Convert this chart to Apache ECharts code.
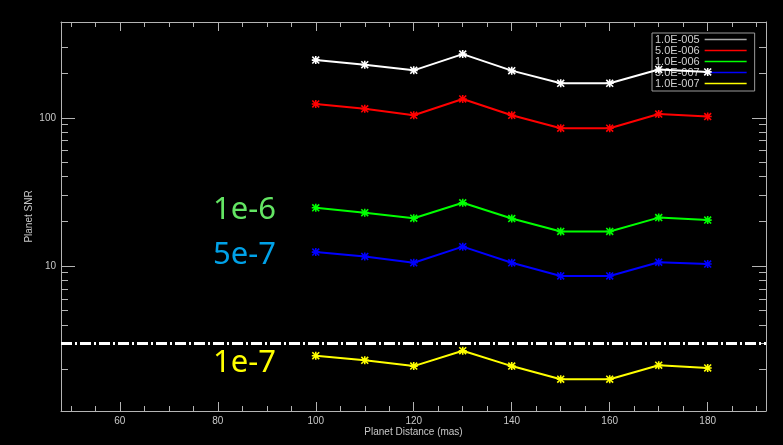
<!DOCTYPE html>
<html>
<head>
<meta charset="utf-8">
<script src="https://cdn.jsdelivr.net/npm/echarts@6/dist/echarts.min.js"></script>
<style>
html,body{margin:0;padding:0;background:#000;}
#chart{width:783px;height:445px;}
</style>
</head>
<body>
<div id="chart"></div>
<script>
// ---- data ----
var distances = [100, 110, 120, 130, 140, 150, 160, 170, 180];
var seriesNames = ['1.0E-005', '5.0E-006', '1.0E-006', '5.0E-007', '1.0E-007'];
var snr1e5 = [245, 228, 209, 269, 208, 171, 171, 212, 204];
var snr5e6 = [124, 115, 104, 134, 104, 85, 85, 106, 102];
var snr1e6 = [24.7, 22.9, 21.0, 26.7, 20.9, 17.1, 17.1, 21.2, 20.4];
var snr5e7 = [12.4, 11.6, 10.5, 13.5, 10.5, 8.56, 8.56, 10.6, 10.3];
var snr1e7 = [2.48, 2.31, 2.11, 2.68, 2.11, 1.72, 1.72, 2.14, 2.05];
var snrThreshold = [3];
var xMajorTicks = [60, 80, 100, 120, 140, 160, 180];
var xMinorTicks = [50, 55, 65, 70, 75, 85, 90, 95, 105, 110, 115, 125, 130, 135, 145, 150, 155, 165, 170, 175, 185, 190];
var yMajorTicks = [10, 100];
var yMinorTicks = [2, 3, 4, 5, 6, 7, 8, 9, 20, 30, 40, 50, 60, 70, 80, 90, 200, 300];
var annotations = ['1e-6', '5e-7', '1e-7'];

// ---- styles ----
var colors = ['#ffffff', '#ff0000', '#00ff00', '#0000ff', '#ffff00'];
var axisGray = '#b4b4b4';
var labelFont = 'Liberation Sans';
var starPath = 'path://M0 4H10V6H0Z M4 0H6V10H4Z M0 1.4L1.4 0L10 8.6L8.6 10Z M8.6 0L10 1.4L1.4 10L0 8.6Z';

function pairs(ys) { return distances.map(function (x, i) { return [x, ys[i]]; }); }

var xMin = 48, xMax = 191.9, yMin = 1.05, yMax = 443;

function xAx(pos, ticks, len, showLine, showLabel, extra) {
  var a = {
    type: 'value', position: pos, min: xMin, max: xMax,
    axisLine: { show: showLine, onZero: false, lineStyle: { color: axisGray, width: 1 } },
    axisTick: { show: true, inside: true, length: len, customValues: ticks, lineStyle: { color: axisGray, width: 1 } },
    axisLabel: { show: showLabel, customValues: ticks, color: '#c8c8c8', fontFamily: labelFont, fontSize: 10, margin: 5 },
    splitLine: { show: false }
  };
  return Object.assign(a, extra || {});
}
function yAx(pos, ticks, len, showLine, showLabel, extra) {
  var a = {
    type: 'log', logBase: 10, position: pos, min: yMin, max: yMax,
    axisLine: { show: showLine, onZero: false, lineStyle: { color: axisGray, width: 1 } },
    axisTick: { show: true, inside: true, length: len, customValues: ticks, lineStyle: { color: axisGray, width: 1 } },
    axisLabel: { show: showLabel, customValues: ticks, color: '#c8c8c8', fontFamily: labelFont, fontSize: 10, margin: 5 },
    splitLine: { show: false }
  };
  return Object.assign(a, extra || {});
}

var allSeries = [snr1e5, snr5e6, snr1e6, snr5e7, snr1e7].map(function (ys, i) {
  return {
    name: seriesNames[i], type: 'line', xAxisIndex: 0, yAxisIndex: 0,
    data: pairs(ys), z: 6,
    symbol: starPath, symbolSize: 8, showSymbol: true,
    lineStyle: { color: colors[i], width: 2 },
    itemStyle: { color: colors[i] },
    emphasis: { disabled: true }
  };
});
allSeries[4].markLine = {
  silent: true, symbol: 'none', animation: false,
  label: { show: false },
  lineStyle: { color: '#ffffff', width: 3, type: [11, 3, 2, 3] },
  data: snrThreshold.map(function (v) { return { yAxis: v }; })
};

var annColors = ['#63e563', '#00a2e8', '#ffff00'];
var annY = [208, 253, 361];

var option = {
  backgroundColor: '#000000',
  animation: false,
  grid: { left: 61, top: 22, right: 17, bottom: 34, containLabel: false },
  xAxis: [
    xAx('bottom', xMajorTicks, 9, true, true, {
      name: 'Planet Distance (mas)', nameLocation: 'middle', nameGap: 16, nameMoveOverlap: false,
      nameTextStyle: { color: '#c8c8c8', fontFamily: labelFont, fontSize: 10 }
    }),
    xAx('bottom', xMinorTicks, 5, false, false),
    xAx('top', xMajorTicks, 9, true, false),
    xAx('top', xMinorTicks, 5, false, false)
  ],
  yAxis: [
    yAx('left', yMajorTicks, 14, true, true, {
      name: 'Planet SNR', nameLocation: 'middle', nameGap: 27, nameRotate: 90, nameMoveOverlap: false,
      nameTextStyle: { color: '#c8c8c8', fontFamily: labelFont, fontSize: 10 }
    }),
    yAx('left', yMinorTicks, 7, false, false),
    yAx('right', yMajorTicks, 14, true, false),
    yAx('right', yMinorTicks, 7, false, false)
  ],
  legend: {
    orient: 'vertical', left: 652, top: 33, z: 1,
    align: 'right', icon: 'rect', itemWidth: 42, itemHeight: 1.5, itemGap: 0,
    padding: [1, 8, 2, 3],
    borderColor: '#9a9a9a', borderWidth: 1,
    selectedMode: false,
    textStyle: { color: '#d0d0d0', fontFamily: labelFont, fontSize: 11, lineHeight: 10 },
    data: seriesNames.map(function (n, i) {
      return { name: n, itemStyle: { color: i === 0 ? '#a8a8a8' : colors[i] } };
    })
  },
  graphic: annotations.map(function (t, i) {
    return {
      type: 'text', left: 213, top: annY[i] - 13, z: 10,
      style: { text: t, fill: annColors[i], font: '31px "Noto Sans", "Open Sans", sans-serif' }
    };
  }),
  series: allSeries
};

var chart = echarts.init(document.getElementById('chart'), null, { renderer: 'canvas' });
chart.setOption(option);
</script>
</body>
</html>
